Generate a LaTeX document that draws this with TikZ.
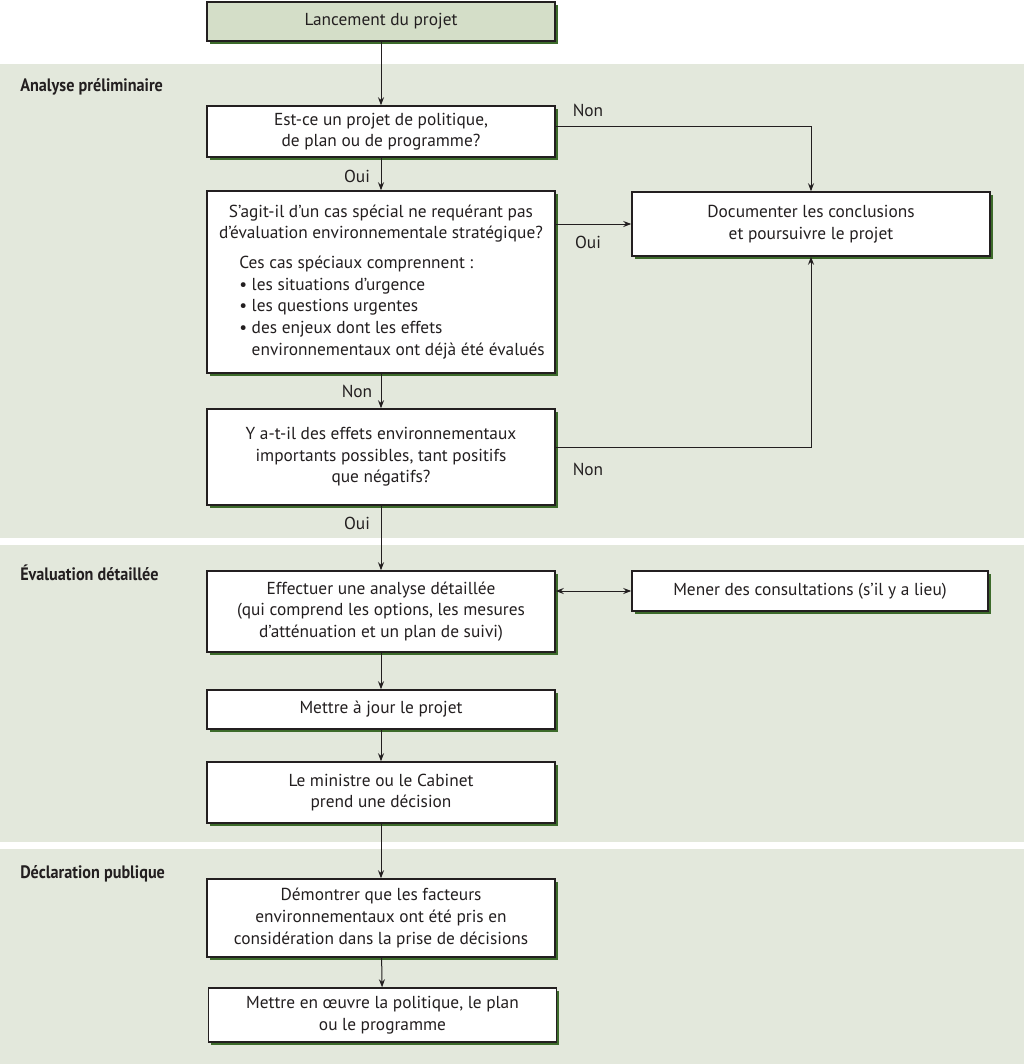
\documentclass[tikz,border=0pt]{standalone}
\usepackage{fontspec}
\setmainfont{PT Sans}
\newfontfamily\secfont{PT Sans}[FakeStretch=0.9]
\usetikzlibrary{arrows.meta,shadows}
\definecolor{panel}{HTML}{E3E8DC}
\definecolor{startfill}{HTML}{D4DEC8}
\definecolor{shadowgreen}{HTML}{3D6B2B}
\definecolor{ink}{HTML}{231F20}
\tikzset{
  box/.style={draw=ink, line width=1.1pt, fill=white, inner sep=0pt, align=center,
    minimum width=261pt, font=\fontsize{13}{16.2}\selectfont, text=ink,
    drop shadow={shadow xshift=2.2pt, shadow yshift=-2.2pt, fill=shadowgreen, opacity=1}},
  arr/.style={draw=ink, line width=0.75pt, -{Stealth[length=6pt,width=4.5pt]}},
  darr/.style={draw=ink, line width=0.75pt, {Stealth[length=6pt,width=4.5pt]}-{Stealth[length=6pt,width=4.5pt]}},
  lab/.style={font=\fontsize{13}{16.2}\selectfont, text=ink, inner sep=0pt},
  sec/.style={font=\secfont\bfseries\fontsize{13.5}{16}\selectfont, text=ink, anchor=west, inner sep=0pt},
}
\begin{document}
\begin{tikzpicture}[x=0.75pt,y=-0.75pt]
\useasboundingbox (0,0) rectangle (1024,1064);
\fill[white] (0,0) rectangle (1024,1064);
\fill[panel] (0,64) rectangle (1024,538);
\fill[panel] (0,545) rectangle (1024,842);
\fill[panel] (0,849) rectangle (1024,1064);

\node[sec] (s1) at (20,87) {Analyse préliminaire};
\node[sec] (s2) at (20,573) {Évaluation détaillée};
\node[sec] (s3) at (20,874) {Déclaration publique};

\node[box, fill=startfill, minimum height=29.25pt] (L) at (381,21.5) {Lancement du projet};
\node[box, minimum height=38.25pt] (B1) at (381,131.5) {Est-ce un projet de politique,\\de plan ou de programme?};
\node[box, minimum height=136.5pt] (B2) at (381,282) {};
\node[lab, align=center] (q2) at (381,223.5) {S’agit-il d’un cas spécial ne requérant pas\\d’évaluation environnementale stratégique?};
\node[lab, anchor=north west, align=left] (l2) at (239,256) {Ces cas spéciaux comprennent :\\• les situations d’urgence\\• les questions urgentes\\• des enjeux dont les effets\\\phantom{• }environnementaux ont déjà été évalués};
\node[box, minimum height=72pt] (B3) at (381,457) {Y a-t-il des effets environnementaux\\importants possibles, tant positifs\\que négatifs?};
\node[box, minimum width=268.5pt, minimum height=48pt] (D) at (811,224) {Documenter les conclusions\\et poursuivre le projet};
\node[box, minimum height=60.75pt] (B4) at (381,611.5) {Effectuer une analyse détaillée\\(qui comprend les options, les mesures\\d’atténuation et un plan de suivi)};
\node[box, minimum width=267pt, minimum height=30pt] (M) at (810,591) {Mener des consultations (s’il y a lieu)};
\node[box, minimum height=29.25pt] (B5) at (381,709.5) {Mettre à jour le projet};
\node[box, minimum height=45.75pt] (B6) at (381,792.5) {Le ministre ou le Cabinet\\prend une décision};
\node[box, minimum height=58.5pt] (B7) at (381,918) {Démontrer que les facteurs\\environnementaux ont été pris en\\considération dans la prise de décisions};
\node[box, minimum height=40.5pt] (B8) at (382.5,1015) {Mettre en œuvre la politique, le plan\\ou le programme};

\draw[arr] (L) -- (B1);
\draw[arr] (B1) -- (B2);
\draw[arr] (B2) -- (B3);
\draw[arr] (B3) -- (B4);
\draw[arr] (B4) -- (B5);
\draw[arr] (B5) -- (B6);
\draw[arr] (B6) -- (B7);
\draw[arr] (B7) -- (B8);
\draw[arr] ([yshift=4pt]B1.east) -| (D.north);
\draw[arr] (B2.east |- D.west) -- (D.west);
\draw[arr] ([yshift=7.5pt]B3.east) -| (D.south);
\draw[darr] (M.west -| B4.east) -- (M.west);

\node[lab] (n1) at (588,110) {Non};
\node[lab] (o1) at (588,242) {Oui};
\node[lab] (n2) at (588,469) {Non};
\node[lab] (o2) at (357,176) {Oui};
\node[lab] (n3) at (357,391) {Non};
\node[lab] (o3) at (357,523) {Oui};
\end{tikzpicture}
\end{document}
